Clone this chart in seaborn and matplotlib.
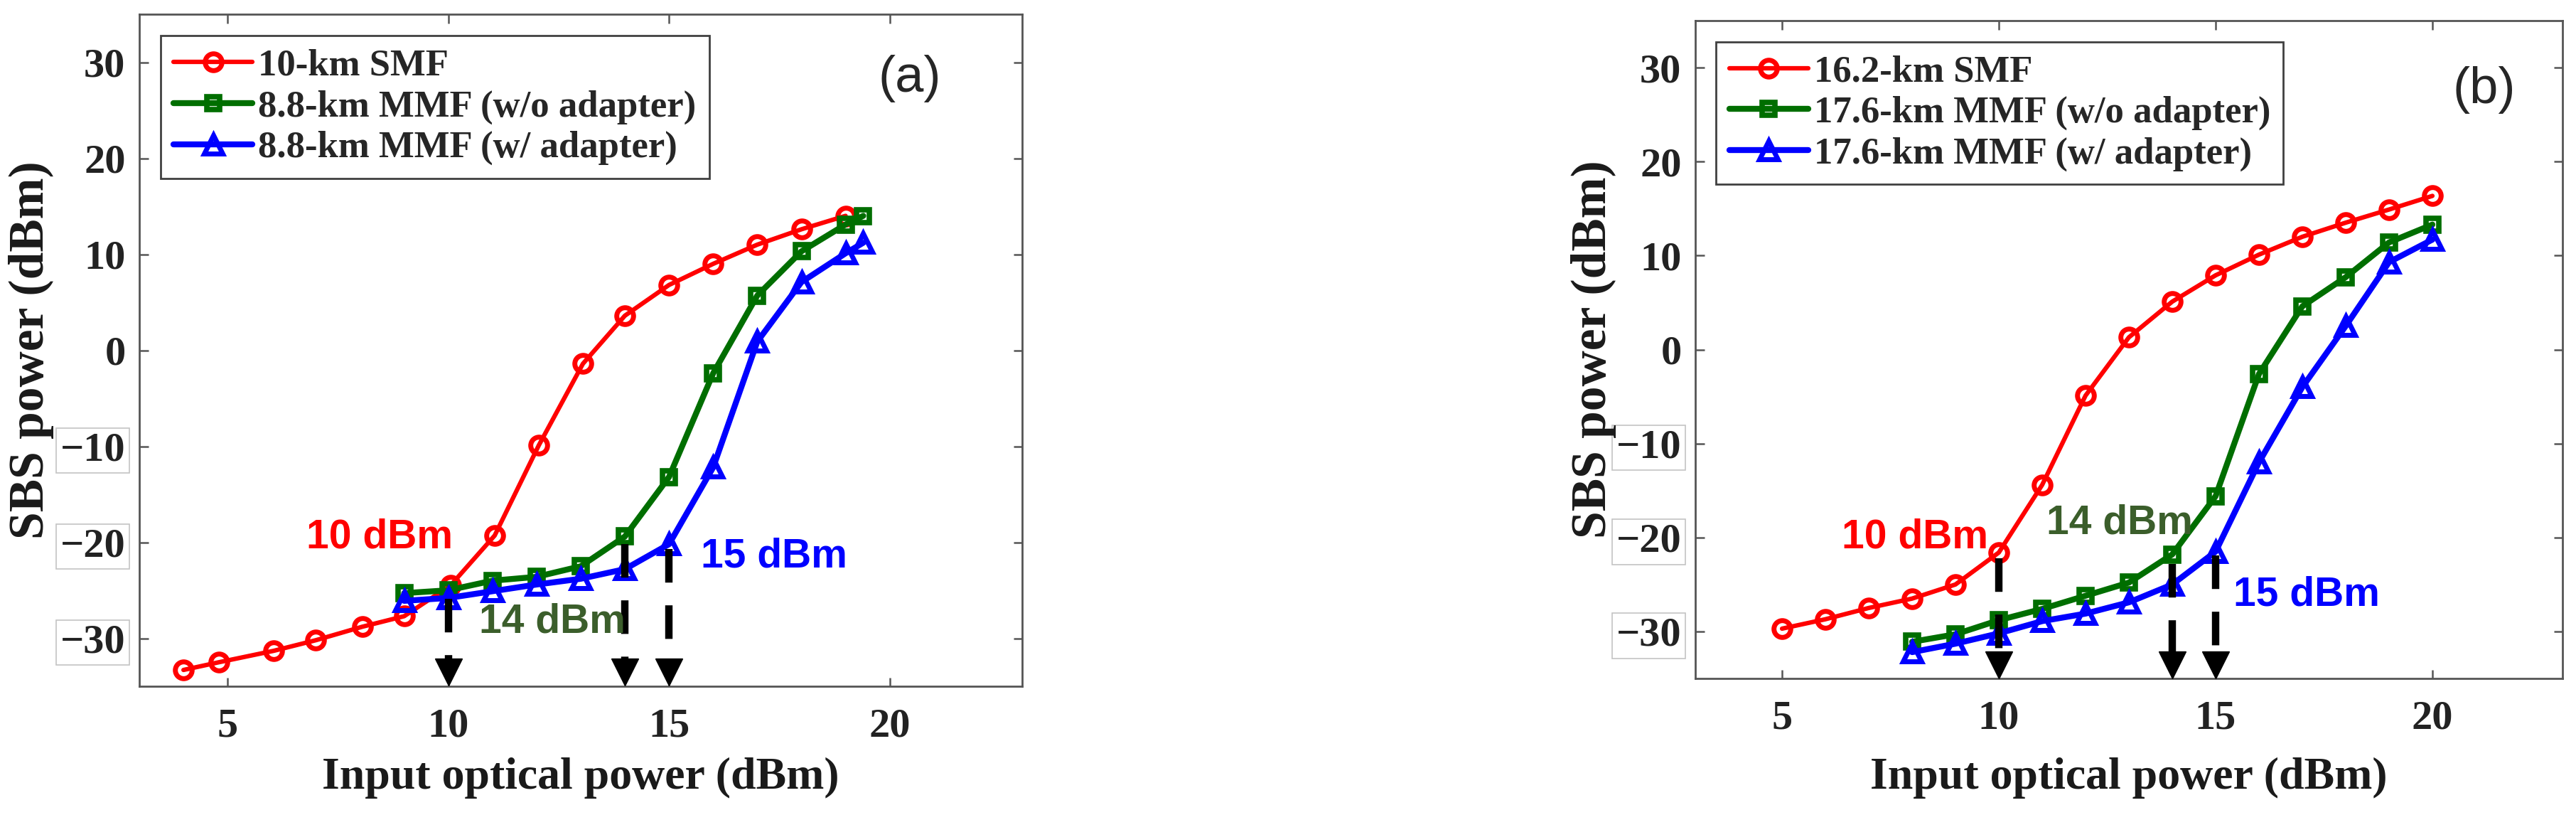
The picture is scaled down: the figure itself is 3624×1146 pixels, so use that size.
import matplotlib
matplotlib.use("Agg")
import matplotlib.pyplot as plt
import seaborn as sns

# panel (a) data
a_x_smf = [4.0, 4.8, 6.05, 7.0, 8.05, 9.0, 10.05, 11.05, 12.05, 13.05, 14.0, 15.0, 16.0, 17.0, 18.0, 19.0]
a_y_smf = [-33.3, -32.5, -31.3, -30.2, -28.8, -27.7, -24.5, -19.3, -9.9, -1.4, 3.6, 6.8, 9.0, 11.0, 12.6, 14.0]
a_x_mmf = [9, 10, 11, 12, 13, 14, 15, 16, 17, 18, 19, 19.4]
a_y_wo = [-25.3, -25.0, -24.0, -23.6, -22.5, -19.4, -13.2, -2.4, 5.7, 10.3, 13.1, 14.0]
a_y_w = [-26.1, -25.8, -25.1, -24.4, -23.8, -22.8, -20.2, -12.2, 0.9, 7.1, 10.1, 11.2]
a_labels = ["10-km SMF", "8.8-km MMF (w/o adapter)", "8.8-km MMF (w/ adapter)"]

# panel (b) data
b_x_smf = [5, 6, 7, 8, 9, 10, 11, 12, 13, 14, 15, 16, 17, 18, 19, 20]
b_y_smf = [-29.7, -28.7, -27.5, -26.5, -25.0, -21.6, -14.4, -4.9, 1.3, 5.1, 7.9, 10.1, 12.0, 13.5, 14.9, 16.35]
b_x_mmf = [8, 9, 10, 11, 12, 13, 14, 15, 16, 17, 18, 19, 20]
b_y_wo = [-31.1, -30.3, -28.8, -27.6, -26.2, -24.8, -21.8, -15.6, -2.6, 4.6, 7.7, 11.4, 13.3]
b_y_w = [-32.2, -31.3, -30.2, -28.9, -28.1, -26.9, -25.0, -21.5, -12.0, -4.0, 2.5, 9.3, 11.7]
b_labels = ["16.2-km SMF", "17.6-km MMF (w/o adapter)", "17.6-km MMF (w/ adapter)"]

# threshold annotations
thr_x = [10, 14, 15]
thr_text = ["10 dBm", "14 dBm", "15 dBm"]
thr_colors = ["#ff0000", "#3b5e2b", "#0000ff"]
a_arrow_top = [-25.9, -20.2, -20.7]
b_arrow_top = [-22.2, -22.8, -21.9]
a_text_pos = [(8.45, -19.5), (12.36, -28.3), (17.38, -21.5)]
b_text_pos = [(8.06, -20.0), (12.78, -18.5), (17.1, -26.1)]

sns.set_style("ticks")
plt.rcParams["font.family"] = ["Liberation Serif", "DejaVu Serif"]
plt.rcParams["lines.scale_dashes"] = False
plt.rcParams["axes.unicode_minus"] = True

fig = plt.figure(figsize=(36.24, 11.46), dpi=100)
ax_a = fig.add_axes([196 / 3624, 1 - 965 / 1146, 1242 / 3624, 945 / 1146])
ax_b = fig.add_axes([2385 / 3624, 1 - 954 / 1146, 1220 / 3624, 925 / 1146])

styles = [
    dict(color="#ff0000", marker="o", markersize=17, markeredgewidth=5, linewidth=4.5),
    dict(color="#006e00", marker="s", markersize=13, markeredgewidth=5.5, linewidth=6),
    dict(color="#0000ff", marker="^", markersize=19, markeredgewidth=5, linewidth=6),
]


def draw_panel(ax, xs, ys, labels, arrow_top, text_pos, tag, tag_pos, ylab_x, xlab_y):
    for x, y, lab, st in zip(xs, ys, labels, styles):
        sns.lineplot(x=x, y=y, ax=ax, label=lab, color=st["color"], marker=st["marker"],
                     markersize=st["markersize"], markeredgewidth=st["markeredgewidth"],
                     markerfacecolor="none", markeredgecolor=st["color"],
                     linewidth=st["linewidth"], sort=False)

    ax.set_xlim(3, 23)
    ax.set_ylim(-35, 35)
    ax.set_xticks([5, 10, 15, 20])
    ax.set_yticks([-30, -20, -10, 0, 10, 20, 30])

    # dashed threshold arrows
    head_y = -35 + 1.45
    for xv, top in zip(thr_x, arrow_top):
        ax.plot([xv, xv], [top, head_y], color="k", linewidth=7.5, dashes=(34, 23),
                solid_capstyle="butt", dash_capstyle="butt", zorder=4)
        ax.plot([xv], [head_y], marker="v", markersize=27, color="k", zorder=4)

    for (tx, ty), t, c in zip(text_pos, thr_text, thr_colors):
        ax.text(tx, ty, t, color=c, fontsize=41, fontweight="bold",
                family=["Liberation Sans", "DejaVu Sans"], ha="center", va="center", zorder=5)

    ax.text(tag_pos[0], tag_pos[1], tag, fontsize=52, family=["Liberation Sans", "DejaVu Sans"],
            ha="center", va="center")

    leg = ax.legend(loc="upper left", bbox_to_anchor=(0.024, 0.968), borderaxespad=0,
                    prop=dict(family="Liberation Serif", weight="bold", size=38),
                    handlelength=2.1, handletextpad=0.15, labelspacing=0.18,
                    borderpad=0.35, fancybox=False, framealpha=1, edgecolor="#404040")
    leg.get_frame().set_linewidth(2)

    ax.set_xlabel("Input optical power (dBm)", fontsize=46, fontweight="bold", color="#1a1a1a")
    ax.set_ylabel("SBS power (dBm)", fontsize=50, fontweight="bold", color="#1a1a1a")
    ax.xaxis.set_label_coords(0.5, xlab_y)
    ax.xaxis.label.set_va("top")
    ax.yaxis.set_label_coords(ylab_x, 0.5)

    ax.tick_params(direction="in", length=9, width=1.8, color="#555555",
                   top=True, right=True, labelsize=42, labelcolor="#222222")
    ax.tick_params(axis="x", pad=22)
    ax.tick_params(axis="y", pad=14)
    for lbl in ax.get_xticklabels() + ax.get_yticklabels():
        lbl.set_fontweight("bold")
    for lbl, v in zip(ax.get_yticklabels(), ax.get_yticks()):
        if v < 0:
            lbl.set_bbox(dict(facecolor="none", edgecolor="#c4c4c4", linewidth=1.2, pad=4))
    for sp in ax.spines.values():
        sp.set_color("#555555")
        sp.set_linewidth(2)


draw_panel(ax_a, [a_x_smf, a_x_mmf, a_x_mmf], [a_y_smf, a_y_wo, a_y_w], a_labels,
           a_arrow_top, a_text_pos, "(a)", (20.45, 28.3), -0.097, -0.106)
draw_panel(ax_b, [b_x_smf, b_x_mmf, b_x_mmf], [b_y_smf, b_y_wo, b_y_w], b_labels,
           b_arrow_top, b_text_pos, "(b)", (21.2, 27.65), -0.091, -0.12)

fig.savefig("out.png", dpi=100, facecolor="white")
